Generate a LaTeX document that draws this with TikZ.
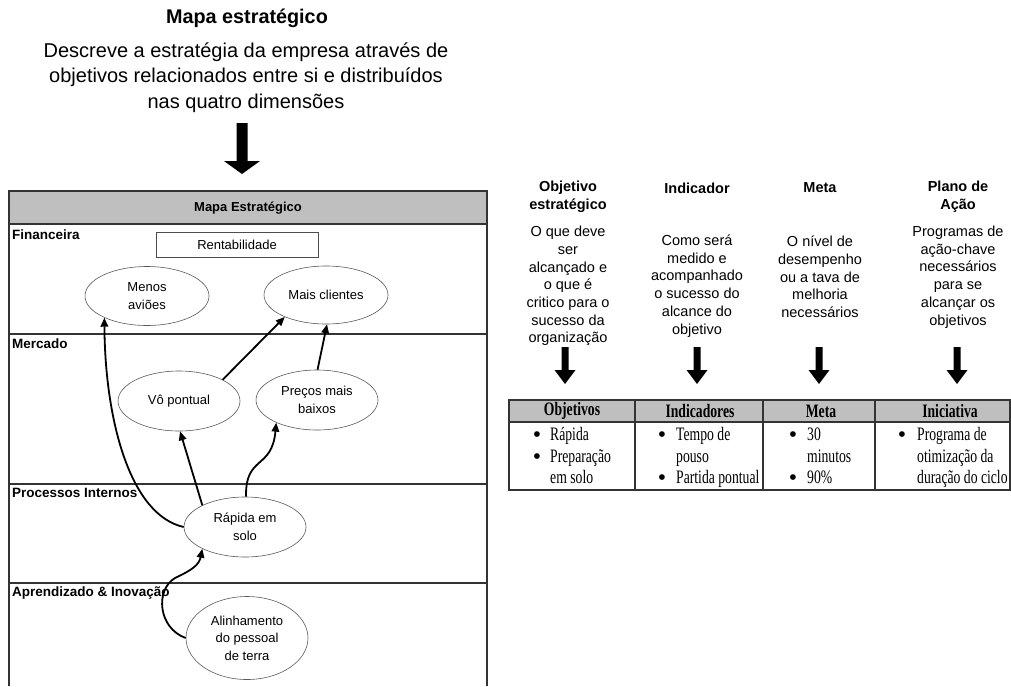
\documentclass[tikz,border=0pt]{standalone}
\usepackage{fontspec}
\setmainfont{Liberation Sans}
\newfontfamily\tabfont[FakeStretch=0.72]{Liberation Serif}
\usetikzlibrary{shapes.geometric,arrows.meta}

\tikzset{
  ell/.style={draw=black!65, line width=0.6pt, ellipse, inner sep=0pt, align=center,
    font=\fontsize{13}{17.5}\selectfont},
  link/.style={line width=1.8pt, -{Triangle[length=9pt,width=7.5pt]}},
  seclabel/.style={anchor=west, inner sep=0pt, font=\bfseries\fontsize{13.5}{15}\selectfont},
  colhead/.style={align=center, inner sep=0pt, font=\bfseries\fontsize{14.5}{18}\selectfont},
  coldesc/.style={align=center, inner sep=0pt, font=\fontsize{14.5}{17.7}\selectfont},
  thead/.style={inner sep=0pt, font=\tabfont\bfseries\fontsize{19}{21}\selectfont},
  tcell/.style={anchor=base west, inner sep=0pt, font=\tabfont\fontsize{19}{21}\selectfont},
  tbullet/.style={anchor=base, inner sep=0pt, yshift=-1.5pt, font=\fontsize{21}{21}\selectfont},
  frame/.style={draw=black!80, line width=1.3pt},
  bigarrow/.pic={\fill (-5.5,0) -- (5.5,0) -- (5.5,38) -- (18,38) -- (0,51) -- (-18,38) -- (-5.5,38) -- cycle;},
  smallarrow/.pic={\fill (-3.5,0) -- (3.5,0) -- (3.5,23) -- (10.5,23) -- (0,37) -- (-10.5,23) -- (-3.5,23) -- cycle;}
}

\begin{document}
\begin{tikzpicture}[x=1pt,y=-1pt]
\useasboundingbox (0,0) rectangle (1011,686);

% ---------- top left text ----------
\node[inner sep=0pt, font=\bfseries\fontsize{19.8}{22}\selectfont] (title) at (247,18) {Mapa estratégico};
\node[inner sep=0pt, align=center, font=\fontsize{20}{25.5}\selectfont] (desc) at (246,77.5)
  {Descreve a estratégia da empresa através de\\objetivos relacionados entre si e distribuídos\\nas quatro dimensões};
\pic at (242,123) {bigarrow};

% ---------- left table ----------
\fill[gray!50] (9,191) rectangle (487,224);
\draw[frame] (9,686) -- (9,191) -- (487,191) -- (487,686);
\foreach \yy in {224,334,484,583} \draw[frame] (9,\yy) -- (487,\yy);
\node[inner sep=0pt, font=\bfseries\fontsize{13}{15}\selectfont] (hdr) at (248,208) {Mapa Estratégico};

\node[seclabel] (fin) at (12,235) {Financeira};
\node[seclabel] (mer) at (12,344) {Mercado};
\node[seclabel] (pro) at (12,493) {Processos Internos};
\node[seclabel] (apr) at (12,593) {Aprendizado \& Inovação};

\node[draw=black!70, line width=0.6pt, minimum width=162pt, minimum height=25pt, inner sep=0pt,
  font=\fontsize{13}{15}\selectfont] (rent) at (237,244.5) {Rentabilidade};

\node[ell, minimum width=124pt, minimum height=59pt] (men) at (147,296) {Menos\\aviões};
\node[ell, minimum width=124pt, minimum height=58pt] (mc)  at (326,295) {Mais clientes};
\node[ell, minimum width=122pt, minimum height=60pt] (vo)  at (179,401) {Vô pontual};
\node[ell, minimum width=122pt, minimum height=60pt] (pre) at (317,400) {Preços mais\\baixos};
\node[ell, minimum width=122pt, minimum height=60pt] (rap) at (245,527) {Rápida em\\solo};
\node[ell, minimum width=122pt, minimum height=83pt] (ali) at (247,638) {Alinhamento\\do pessoal\\de terra};

\draw[link] (rap.west) .. controls (130,515) and (105,420) .. (men.207);
\draw[link] (rap.153) -- (vo.272);
\draw[link] (rap.88) .. controls (245,455) and (272,470) .. (pre.209);
\draw[link] (vo.26) -- (mc.208);
\draw[link] (pre.89) -- (mc.272);
\draw[link] (ali.west) .. controls (158,628) and (155,590) .. (175,578)
  .. controls (192,570) and (199,565) .. (rap.207);

% ---------- right column texts ----------
\node[colhead] (h1) at (568,197) {Objetivo\\estratégico};
\node[colhead] (h2) at (697,188) {Indicador};
\node[colhead] (h3) at (820,188) {Meta};
\node[colhead] (h4) at (958,197) {Plano de\\Ação};

\node[coldesc] (d1) at (568,286) {O que deve\\ser\\alcançado e\\o que é\\critico para o\\sucesso da\\organização};
\node[coldesc] (d2) at (697,286) {Como será\\medido e\\acompanhado\\o sucesso do\\alcance do\\objetivo};
\node[coldesc] (d3) at (820,277) {O nível de\\desempenho\\ou a tava de\\melhoria\\necessários};
\node[coldesc] (d4) at (958,277) {Programas de\\ação-chave\\necessários\\para se\\alcançar os\\objetivos};

\pic at (565,347) {smallarrow};
\pic at (697,347) {smallarrow};
\pic at (819,347) {smallarrow};
\pic at (957,347) {smallarrow};

% ---------- right table ----------
\fill[gray!50] (509,400) rectangle (1010,422);
\draw[frame] (509,400) rectangle (1010,490);
\draw[frame] (509,422) -- (1010,422);
\foreach \xx in {635,763,875} \draw[frame] (\xx,400) -- (\xx,490);

\node[thead] (t1) at (572,411) {Objetivos};
\node[thead] (t2) at (700,411) {Indicadores};
\node[thead] (t3) at (821,411) {Meta};
\node[thead] (t4) at (950,411) {Iniciativa};

\node[tbullet] (b11) at (537,440) {•};
\node[tcell] (c11) at (550,440) {Rápida};
\node[tbullet] (b12) at (537,462) {•};
\node[tcell] (c12) at (550,462) {Preparação};
\node[tcell] (c13) at (550,483) {em solo};

\node[tbullet] (b21) at (662,440) {•};
\node[tcell] (c21) at (676,440) {Tempo de};
\node[tcell] (c22) at (676,462) {pouso};
\node[tbullet] (b23) at (662,483) {•};
\node[tcell] (c23) at (676,483) {Partida pontual};

\node[tbullet] (b31) at (793,440) {•};
\node[tcell] (c31) at (807,440) {30};
\node[tcell] (c32) at (807,462) {minutos};
\node[tbullet] (b33) at (793,483) {•};
\node[tcell] (c33) at (807,483) {90\%};

\node[tbullet] (b41) at (902,440) {•};
\node[tcell] (c41) at (917,440) {Programa de};
\node[tcell] (c42) at (917,462) {otimização da};
\node[tcell] (c43) at (917,483) {duração do ciclo};
\end{tikzpicture}
\end{document}
